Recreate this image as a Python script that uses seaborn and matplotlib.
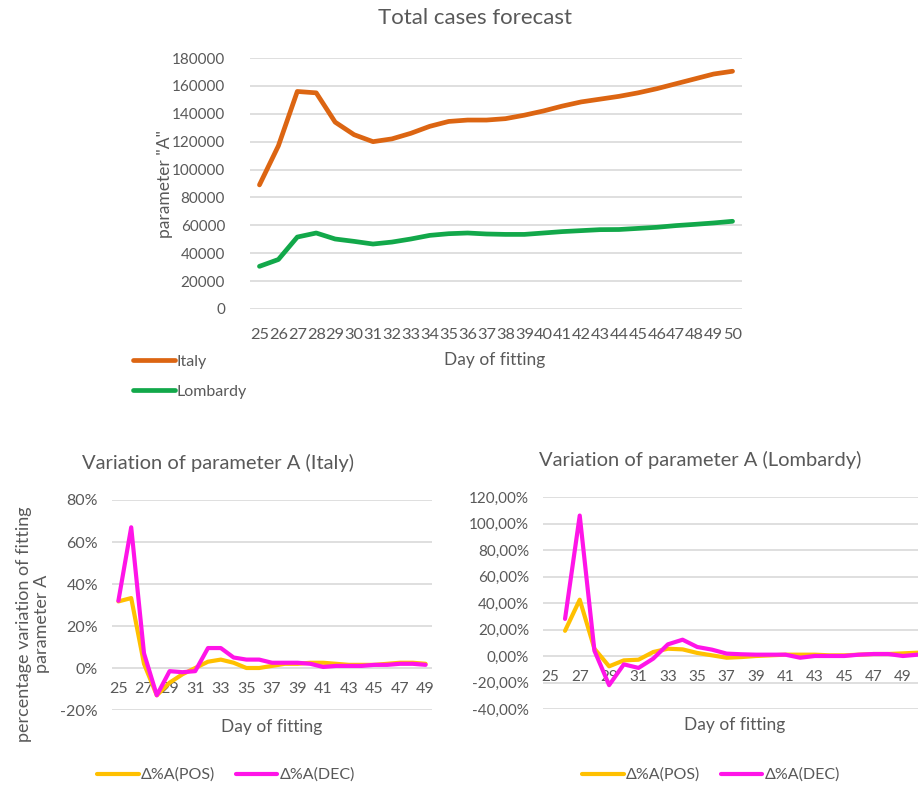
import pandas as pd
import numpy as np
import matplotlib.pyplot as plt
import seaborn as sns
from matplotlib.ticker import FuncFormatter

# ==========================
# Data
# ==========================
days_top = list(range(25, 51))
italy_A = [89000, 117000, 156000, 155000, 134000, 125000, 120000, 122000, 126000,
           131000, 134500, 135500, 135500, 136500, 139000, 142000, 145500, 148500,
           150500, 152500, 155000, 158000, 161500, 165000, 168500, 170500]
lombardy_A = [30600, 35500, 51600, 54500, 50200, 48500, 46600, 48000, 50200, 52800,
              54000, 54500, 53800, 53500, 53500, 54500, 55500, 56200, 56900, 57000,
              57800, 58600, 59800, 60700, 61700, 62900]

days_italy = list(range(25, 50))
italy_pos = [31.7, 33.3, 2.0, -13.0, -7.0, -3.0, 0.0, 3.0, 4.0, 2.5, 0.0, 0.0, 1.0,
             2.0, 2.0, 2.5, 2.5, 2.0, 1.5, 1.5, 1.5, 2.0, 2.5, 2.5, 2.0]
italy_dec = [32.0, 67.0, 7.0, -13.0, -1.5, -2.0, -1.5, 9.5, 9.5, 5.0, 4.0, 4.0, 2.5,
             2.5, 2.5, 2.0, 0.5, 1.0, 1.0, 1.0, 1.5, 1.5, 2.0, 2.0, 1.5]

days_lomb = list(range(26, 51))
lomb_pos = [19.0, 42.5, 5.5, -7.8, -3.3, -2.8, 3.0, 5.5, 5.0, 2.3, 0.5, -1.3, -0.8,
            0.0, 0.5, 1.0, 1.0, 1.0, 0.5, 0.5, 1.0, 1.5, 1.5, 2.0, 2.5]
lomb_dec = [28.0, 106.0, 4.0, -22.0, -6.3, -9.0, -2.0, 8.8, 12.3, 6.8, 4.8, 1.8, 1.3,
            1.0, 1.0, 1.0, -1.3, 0.0, 0.0, 0.0, 1.0, 1.5, 1.5, 0.0, 1.0]

# ==========================
# Style
# ==========================
sns.set_style("white")
plt.rcParams["font.family"] = ["Lato", "DejaVu Sans"]
TXT = "#595959"
GRID = "#d9d9d9"
ORANGE = "#dc6512"
GREEN = "#12a84a"
GOLD = "#ffc000"
MAGENTA = "#ff14e8"

fig = plt.figure(figsize=(9.18, 7.88), dpi=100)


def style_axes(ax, tick_size):
    for s in ax.spines.values():
        s.set_visible(False)
    ax.yaxis.grid(True, color=GRID, linewidth=1.2)
    ax.xaxis.grid(False)
    ax.set_axisbelow(True)
    ax.tick_params(axis="both", length=0, colors=TXT, labelsize=tick_size)
    ax.tick_params(axis="y", pad=10)
    ax.set_xlabel("")
    ax.set_ylabel("")


# ============================================================
# Graph 1 : Total cases forecast
# ============================================================
top_df = pd.DataFrame({
    "day": days_top * 2,
    "A": italy_A + lombardy_A,
    "region": ["Italy"] * len(days_top) + ["Lombardy"] * len(days_top),
})

ax1 = fig.add_axes([250 / 918, 1 - 309 / 788, 492 / 918, 251 / 788])
sns.lineplot(data=top_df, x="day", y="A", hue="region",
             palette={"Italy": ORANGE, "Lombardy": GREEN},
             linewidth=3.4, ax=ax1)
style_axes(ax1, 11)
ax1.set_xlim(24.5, 50.5)
ax1.set_ylim(0, 180000)
ax1.set_yticks(range(0, 180001, 20000))
ax1.set_xticks(days_top)
ax1.tick_params(axis="x", pad=14, labelsize=11.8)
ax1.tick_params(axis="y", pad=18)
sns.move_legend(ax1, "center left", bbox_to_anchor=(133 / 918, 1 - 376.5 / 788),
                bbox_transform=fig.transFigure, frameon=False, title=None,
                fontsize=11.5, handlelength=2.6, handletextpad=0.15,
                labelspacing=1.0, borderpad=0, borderaxespad=0)
for t in ax1.get_legend().get_texts():
    t.set_color(TXT)

fig.text(475 / 918, 1 - 18 / 788, "Total cases forecast", ha="center", va="center",
         fontsize=16, color=TXT)
fig.text(165 / 918, 1 - 184 / 788, 'parameter "A"', ha="center", va="center",
         rotation=90, fontsize=12.5, color=TXT)
fig.text(495 / 918, 1 - 360 / 788, "Day of fitting", ha="center", va="center",
         fontsize=12.5, color=TXT)

# ============================================================
# Graph 2 : Variation of parameter A (Italy)
# ============================================================
it_df = pd.DataFrame({
    "day": days_italy * 2,
    "var": italy_pos + italy_dec,
    "series": ["Δ%A(POS)"] * len(days_italy) + ["Δ%A(DEC)"] * len(days_italy),
})

ax2 = fig.add_axes([112 / 918, 1 - 710 / 788, 320 / 918, 210 / 788])
sns.lineplot(data=it_df, x="day", y="var", hue="series",
             palette={"Δ%A(POS)": GOLD, "Δ%A(DEC)": MAGENTA},
             linewidth=3.0, ax=ax2)
style_axes(ax2, 11.5)
ax2.set_xlim(24.5, 49.5)
ax2.set_ylim(-20, 80)
ax2.set_yticks(range(-20, 81, 20))
ax2.yaxis.set_major_formatter(FuncFormatter(lambda v, p: f"{v:.0f}%"))
ax2.set_xticks(days_italy[::2])
ax2.spines["bottom"].set_position(("data", 0))
ax2.tick_params(axis="x", pad=10)
sns.move_legend(ax2, "center left", bbox_to_anchor=(97 / 918, 1 - 775 / 788),
                bbox_transform=fig.transFigure, ncol=2, frameon=False, title=None,
                fontsize=11.5, handlelength=2.6, handletextpad=0.15,
                columnspacing=1.3, borderpad=0, borderaxespad=0)
for t in ax2.get_legend().get_texts():
    t.set_color(TXT)

fig.text(218 / 918, 1 - 463 / 788, "Variation of parameter A (Italy)", ha="center",
         va="center", fontsize=14.5, color=TXT)
fig.text(33 / 918, 1 - 624 / 788, "percentage variation of fitting\nparameter A",
         ha="center", va="center", rotation=90, multialignment="center",
         fontsize=13, color=TXT, linespacing=1.1)
fig.text(272 / 918, 1 - 727 / 788, "Day of fitting", ha="center", va="center",
         fontsize=12.5, color=TXT)

# ============================================================
# Graph 3 : Variation of parameter A (Lombardy)
# ============================================================
lo_df = pd.DataFrame({
    "day": days_lomb * 2,
    "var": lomb_pos + lomb_dec,
    "series": ["Δ%A(POS)"] * len(days_lomb) + ["Δ%A(DEC)"] * len(days_lomb),
})

ax3 = fig.add_axes([543 / 918, 1 - 709 / 788, 382 / 918, 212 / 788])
sns.lineplot(data=lo_df, x="day", y="var", hue="series",
             palette={"Δ%A(POS)": GOLD, "Δ%A(DEC)": MAGENTA},
             linewidth=3.0, ax=ax3)
style_axes(ax3, 11)
ax3.set_xlim(24.5, 50.5)
ax3.set_ylim(-40, 120)
ax3.set_yticks(range(-40, 121, 20))
ax3.yaxis.set_major_formatter(
    FuncFormatter(lambda v, p: f"{v:.2f}%".replace(".", ",")))
ax3.set_xticks(list(range(25, 50, 2)))
ax3.spines["bottom"].set_position(("data", 0))
ax3.tick_params(axis="x", pad=10)
sns.move_legend(ax3, "center left", bbox_to_anchor=(582 / 918, 1 - 775 / 788),
                bbox_transform=fig.transFigure, ncol=2, frameon=False, title=None,
                fontsize=11.5, handlelength=2.6, handletextpad=0.15,
                columnspacing=1.3, borderpad=0, borderaxespad=0)
for t in ax3.get_legend().get_texts():
    t.set_color(TXT)

fig.text(700 / 918, 1 - 460 / 788, "Variation of parameter A (Lombardy)",
         ha="center", va="center", fontsize=14.5, color=TXT)
fig.text(735 / 918, 1 - 725 / 788, "Day of fitting", ha="center", va="center",
         fontsize=12.5, color=TXT)

plt.savefig("out.png", dpi=100)
